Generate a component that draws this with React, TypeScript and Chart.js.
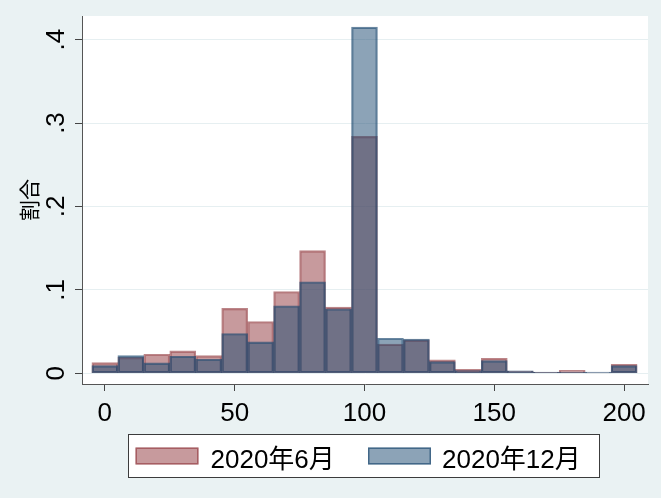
import React, { useEffect, useRef } from 'react';
import { Chart, registerables } from 'chart.js';

Chart.register(...registerables);

// ---- data ----
const binCenters = [0, 10, 20, 30, 40, 50, 60, 70, 80, 90, 100, 110, 120, 130, 140, 150, 160, 170, 180, 190, 200];
const june2020 = [0.0127, 0.019, 0.0228, 0.0268, 0.0212, 0.0777, 0.062, 0.098, 0.147, 0.0793, 0.284, 0.035, 0.040, 0.016, 0.0048, 0.018, 0.0025, 0.001, 0.0036, 0.0005, 0.0108];
const dec2020 = [0.0092, 0.0212, 0.0124, 0.0204, 0.0168, 0.0476, 0.0376, 0.0809, 0.1097, 0.0773, 0.415, 0.042, 0.041, 0.014, 0.0031, 0.0151, 0.003, 0.0015, 0.0015, 0.0015, 0.0092];
const seriesLabels = ['2020年6月', '2020年12月'];
const xTicks = [0, 50, 100, 150, 200];
const yTicks = [0, 0.1, 0.2, 0.3, 0.4];
const yTitle = '割合';

const FONT = "'Liberation Sans', Arial, 'Noto Sans CJK JP', sans-serif";
const BG = '#EAF2F3';

const bgPlugin = {
  id: 'stataBg',
  beforeDraw(chart: any) {
    const { ctx, chartArea } = chart;
    ctx.save();
    ctx.fillStyle = BG;
    ctx.fillRect(0, 0, chart.width, chart.height);
    ctx.fillStyle = '#ffffff';
    ctx.fillRect(chartArea.left, chartArea.top, chartArea.right - chartArea.left, chartArea.bottom - chartArea.top);
    ctx.restore();
  },
};

const legendPlugin = {
  id: 'stataLegend',
  afterDraw(chart: any) {
    const ctx = chart.ctx;
    ctx.save();
    ctx.fillStyle = '#ffffff';
    ctx.fillRect(128.5, 434.5, 471, 43);
    ctx.strokeStyle = '#3c3c3c';
    ctx.lineWidth = 1;
    ctx.strokeRect(128.5, 434.5, 471, 43);
    const swX = [135.5, 368];
    const txX = [210.5, 442];
    chart.data.datasets.forEach((ds: any, i: number) => {
      ctx.fillStyle = ds.backgroundColor;
      ctx.fillRect(swX[i], 447.5, 63, 17);
      ctx.strokeStyle = ds.borderColor;
      ctx.lineWidth = 1.5;
      ctx.strokeRect(swX[i] + 0.75, 448.25, 61.5, 15.5);
      ctx.fillStyle = '#000';
      ctx.font = `26px ${FONT}`;
      ctx.textBaseline = 'middle';
      ctx.textAlign = 'left';
      ctx.fillText(ds.label, txX[i], 460.5);
    });
    ctx.restore();
  },
};

export default function App() {
  const ref = useRef<HTMLCanvasElement | null>(null);
  useEffect(() => {
    document.body.style.margin = '0';
    document.body.style.background = BG;
    const canvas = ref.current;
    if (!canvas) return;
    const chart = new Chart(canvas, {
      type: 'bar',
      data: {
        datasets: [
          {
            label: seriesLabels[0],
            data: binCenters.map((x, i) => ({ x, y: june2020[i] })),
            backgroundColor: 'rgba(144,53,59,0.5)',
            borderColor: 'rgba(144,53,59,0.6)',
            borderWidth: 1.5,
            borderSkipped: false,
            order: 2,
          },
          {
            label: seriesLabels[1],
            data: binCenters.map((x, i) => ({ x, y: dec2020[i] })),
            backgroundColor: 'rgba(26,71,111,0.5)',
            borderColor: 'rgba(26,71,111,0.65)',
            borderWidth: 1.5,
            borderSkipped: false,
            order: 1,
          },
        ],
      } as any,
      options: {
        responsive: false,
        animation: false,
        devicePixelRatio: 1,
        layout: { padding: { top: 16, right: 13, left: 0, bottom: 0 } },
        datasets: {
          bar: { grouped: false, categoryPercentage: 1, barPercentage: 1 },
        } as any,
        plugins: {
          legend: { display: false },
          tooltip: { enabled: false },
        },
        scales: {
          x: {
            type: 'linear',
            offset: false,
            min: -8.8,
            max: 209.2,
            afterBuildTicks: (s: any) => {
              s.ticks = xTicks.map((v) => ({ value: v }));
            },
            afterFit: (s: any) => {
              s.height = 114;
              s.paddingLeft = 0;
              s.paddingRight = 0;
            },
            grid: { offset: false, drawOnChartArea: false, drawTicks: true, tickLength: 7, tickColor: '#444' },
            border: { color: '#555', width: 1 },
            ticks: {
              font: { size: 26, family: FONT },
              color: '#000',
              padding: 7,
              maxRotation: 0,
              autoSkip: false,
            },
          },
          y: {
            type: 'linear',
            min: -0.0129,
            max: 0.4283,
            afterBuildTicks: (s: any) => {
              s.ticks = yTicks.map((v) => ({ value: v }));
            },
            afterFit: (s: any) => {
              s.width = 82;
              s.paddingTop = 0;
              s.paddingBottom = 0;
            },
            grid: { color: '#E6EFF1', lineWidth: 1, drawTicks: true, tickLength: 7, tickColor: '#444' },
            border: { color: '#555', width: 1 },
            ticks: {
              font: { size: 26, family: FONT },
              color: '#000',
              minRotation: 90,
              maxRotation: 90,
              crossAlign: 'center',
              padding: 7,
              callback: (v: any) => (v === 0 ? '0' : String(v).replace(/^0/, '')),
            },
            title: {
              display: true,
              text: yTitle,
              color: '#000',
              font: { size: 21, family: FONT },
              padding: { top: 19, bottom: 0 },
            },
          },
        } as any,
      },
      plugins: [bgPlugin, legendPlugin],
    });
    return () => chart.destroy();
  }, []);
  return (
    <div style={{ width: 661, height: 498 }}>
      <canvas ref={ref} width={661} height={498} style={{ display: 'block' }} />
    </div>
  );
}
